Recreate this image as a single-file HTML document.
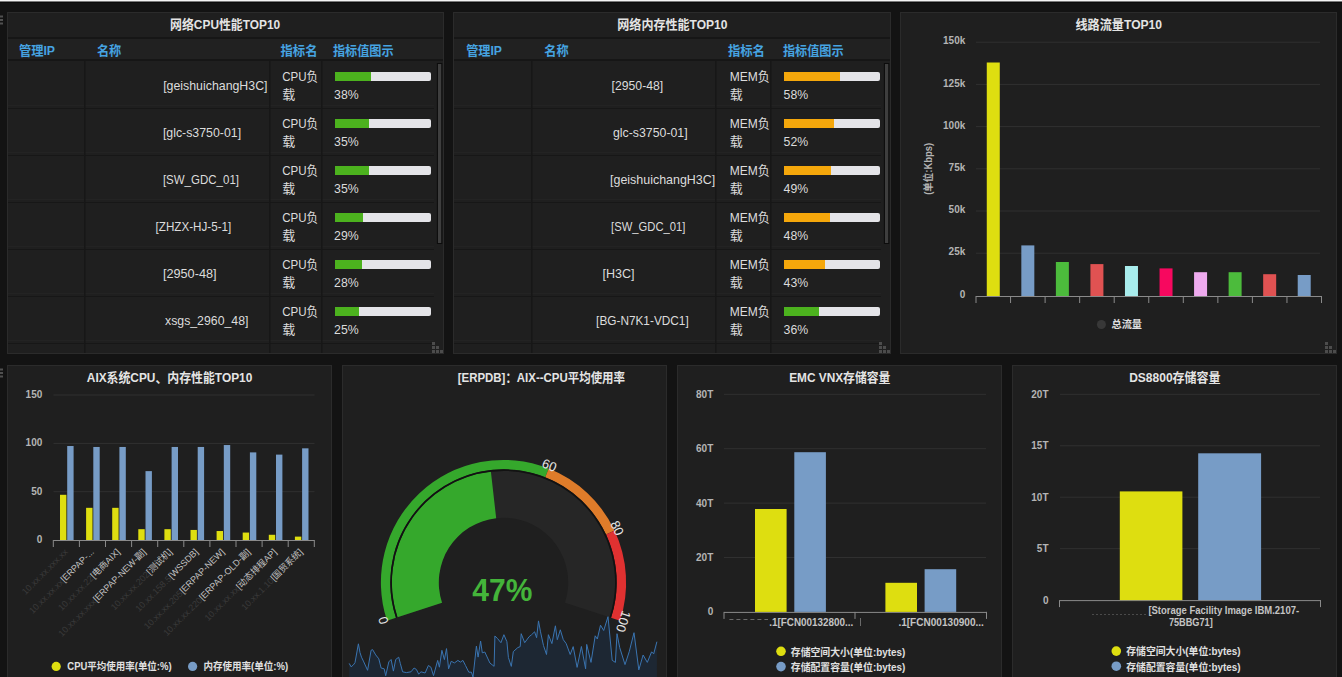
<!DOCTYPE html>
<html><head><meta charset="utf-8"><title>Dashboard</title>
<style>
html,body{margin:0;padding:0;background:#131313;width:1342px;height:677px;overflow:hidden}
svg{display:block;position:absolute;left:0;top:0}
text{font-family:"Liberation Sans","Noto Sans CJK SC",sans-serif}
</style></head><body>
<svg width="1342" height="677" viewBox="0 0 1342 677" shape-rendering="auto">
<rect x="0.00" y="0.00" width="1342.00" height="677.00" fill="#131313" />
<rect x="0.00" y="0.00" width="1342.00" height="1.00" fill="#f4f4f4" />
<rect x="0.00" y="1.00" width="1342.00" height="1.00" fill="#7a7a7a" />
<rect x="0.00" y="2.00" width="1342.00" height="1.00" fill="#0b0b0b" />
<rect x="0.00" y="15.50" width="3.00" height="2.00" fill="#505050" />
<rect x="0.00" y="19.00" width="3.00" height="2.00" fill="#505050" />
<rect x="0.00" y="22.50" width="3.00" height="2.00" fill="#505050" />
<rect x="0.00" y="368.50" width="3.00" height="2.00" fill="#505050" />
<rect x="0.00" y="372.00" width="3.00" height="2.00" fill="#505050" />
<rect x="0.00" y="375.50" width="3.00" height="2.00" fill="#505050" />
<rect x="7.00" y="12.00" width="437.00" height="342.00" fill="#2b2b2b" />
<rect x="8.00" y="13.00" width="435.00" height="340.00" fill="#1f1f1f" />
<text x="170.10" y="28.50" font-size="13" fill="#e4e4e4" font-weight="bold" text-anchor="start" textLength="110.1" lengthAdjust="spacingAndGlyphs" >网络CPU性能TOP10</text>
<rect x="8.00" y="37.00" width="435.00" height="2.00" fill="#161616" />
<rect x="8.00" y="39.00" width="435.00" height="20.00" fill="#212121" />
<rect x="8.00" y="59.00" width="435.00" height="2.00" fill="#161616" />
<text x="18.90" y="55.00" font-size="13" fill="#46a4e2" font-weight="bold" text-anchor="start" textLength="36.1" lengthAdjust="spacingAndGlyphs" >管理IP</text>
<text x="96.90" y="55.00" font-size="13" fill="#46a4e2" font-weight="bold" text-anchor="start" textLength="24.4" lengthAdjust="spacingAndGlyphs" >名称</text>
<text x="280.50" y="55.00" font-size="13" fill="#46a4e2" font-weight="bold" text-anchor="start" textLength="37.1" lengthAdjust="spacingAndGlyphs" >指标名</text>
<text x="332.90" y="55.00" font-size="13" fill="#46a4e2" font-weight="bold" text-anchor="start" textLength="60.8" lengthAdjust="spacingAndGlyphs" >指标值图示</text>
<rect x="8.00" y="108.00" width="426.00" height="1.00" fill="#171717" />
<rect x="8.00" y="105.00" width="426.00" height="1.00" fill="#232323" />
<rect x="8.00" y="155.00" width="426.00" height="1.00" fill="#171717" />
<rect x="8.00" y="152.00" width="426.00" height="1.00" fill="#232323" />
<rect x="8.00" y="202.00" width="426.00" height="1.00" fill="#171717" />
<rect x="8.00" y="199.00" width="426.00" height="1.00" fill="#232323" />
<rect x="8.00" y="249.00" width="426.00" height="1.00" fill="#171717" />
<rect x="8.00" y="246.00" width="426.00" height="1.00" fill="#232323" />
<rect x="8.00" y="296.00" width="426.00" height="1.00" fill="#171717" />
<rect x="8.00" y="293.00" width="426.00" height="1.00" fill="#232323" />
<rect x="8.00" y="343.00" width="426.00" height="1.00" fill="#171717" />
<rect x="8.00" y="340.00" width="426.00" height="1.00" fill="#232323" />
<rect x="84.00" y="61.00" width="1.50" height="292.00" fill="#171717" />
<rect x="269.00" y="61.00" width="1.50" height="292.00" fill="#171717" />
<rect x="321.00" y="61.00" width="1.50" height="292.00" fill="#171717" />
<text x="163.20" y="90.30" font-size="13" fill="#dcdcdc" text-anchor="start" textLength="104.3" lengthAdjust="spacingAndGlyphs" >[geishuichangH3C]</text>
<text x="282.20" y="80.80" font-size="13" fill="#dcdcdc" text-anchor="start" textLength="36.0" lengthAdjust="spacingAndGlyphs" >CPU负</text>
<text x="282.30" y="98.60" font-size="13" fill="#dcdcdc" text-anchor="start" >载</text>
<rect x="335.00" y="72.00" width="96.00" height="9.00" fill="#e4e4e8" rx="2"/>
<rect x="335.00" y="72.00" width="36.00" height="9.00" fill="#4cb21e" />
<text x="334.10" y="99.00" font-size="13" fill="#dcdcdc" text-anchor="start" textLength="24.6" lengthAdjust="spacingAndGlyphs" >38%</text>
<text x="162.90" y="137.30" font-size="13" fill="#dcdcdc" text-anchor="start" textLength="78.2" lengthAdjust="spacingAndGlyphs" >[glc-s3750-01]</text>
<text x="282.20" y="127.80" font-size="13" fill="#dcdcdc" text-anchor="start" textLength="36.0" lengthAdjust="spacingAndGlyphs" >CPU负</text>
<text x="282.30" y="145.60" font-size="13" fill="#dcdcdc" text-anchor="start" >载</text>
<rect x="335.00" y="119.00" width="96.00" height="9.00" fill="#e4e4e8" rx="2"/>
<rect x="335.00" y="119.00" width="34.00" height="9.00" fill="#4cb21e" />
<text x="334.10" y="146.00" font-size="13" fill="#dcdcdc" text-anchor="start" textLength="24.6" lengthAdjust="spacingAndGlyphs" >35%</text>
<text x="162.90" y="184.30" font-size="13" fill="#dcdcdc" text-anchor="start" textLength="76.1" lengthAdjust="spacingAndGlyphs" >[SW_GDC_01]</text>
<text x="282.20" y="174.80" font-size="13" fill="#dcdcdc" text-anchor="start" textLength="36.0" lengthAdjust="spacingAndGlyphs" >CPU负</text>
<text x="282.30" y="192.60" font-size="13" fill="#dcdcdc" text-anchor="start" >载</text>
<rect x="335.00" y="166.00" width="96.00" height="9.00" fill="#e4e4e8" rx="2"/>
<rect x="335.00" y="166.00" width="34.00" height="9.00" fill="#4cb21e" />
<text x="334.10" y="193.00" font-size="13" fill="#dcdcdc" text-anchor="start" textLength="24.6" lengthAdjust="spacingAndGlyphs" >35%</text>
<text x="155.60" y="231.30" font-size="13" fill="#dcdcdc" text-anchor="start" textLength="75.7" lengthAdjust="spacingAndGlyphs" >[ZHZX-HJ-5-1]</text>
<text x="282.20" y="221.80" font-size="13" fill="#dcdcdc" text-anchor="start" textLength="36.0" lengthAdjust="spacingAndGlyphs" >CPU负</text>
<text x="282.30" y="239.60" font-size="13" fill="#dcdcdc" text-anchor="start" >载</text>
<rect x="335.00" y="213.00" width="96.00" height="9.00" fill="#e4e4e8" rx="2"/>
<rect x="335.00" y="213.00" width="28.00" height="9.00" fill="#4cb21e" />
<text x="334.10" y="240.00" font-size="13" fill="#dcdcdc" text-anchor="start" textLength="24.6" lengthAdjust="spacingAndGlyphs" >29%</text>
<text x="162.90" y="278.30" font-size="13" fill="#dcdcdc" text-anchor="start" textLength="53.7" lengthAdjust="spacingAndGlyphs" >[2950-48]</text>
<text x="282.20" y="268.80" font-size="13" fill="#dcdcdc" text-anchor="start" textLength="36.0" lengthAdjust="spacingAndGlyphs" >CPU负</text>
<text x="282.30" y="286.60" font-size="13" fill="#dcdcdc" text-anchor="start" >载</text>
<rect x="335.00" y="260.00" width="96.00" height="9.00" fill="#e4e4e8" rx="2"/>
<rect x="335.00" y="260.00" width="27.00" height="9.00" fill="#4cb21e" />
<text x="334.10" y="287.00" font-size="13" fill="#dcdcdc" text-anchor="start" textLength="24.6" lengthAdjust="spacingAndGlyphs" >28%</text>
<text x="165.00" y="325.30" font-size="13" fill="#dcdcdc" text-anchor="start" textLength="83.4" lengthAdjust="spacingAndGlyphs" >xsgs_2960_48]</text>
<text x="282.20" y="315.80" font-size="13" fill="#dcdcdc" text-anchor="start" textLength="36.0" lengthAdjust="spacingAndGlyphs" >CPU负</text>
<text x="282.30" y="333.60" font-size="13" fill="#dcdcdc" text-anchor="start" >载</text>
<rect x="335.00" y="307.00" width="96.00" height="9.00" fill="#e4e4e8" rx="2"/>
<rect x="335.00" y="307.00" width="24.00" height="9.00" fill="#4cb21e" />
<text x="334.10" y="334.00" font-size="13" fill="#dcdcdc" text-anchor="start" textLength="24.6" lengthAdjust="spacingAndGlyphs" >25%</text>
<rect x="437.40" y="63.50" width="4.40" height="180.00" fill="#3e3e3e" stroke="#0c0c0c" stroke-width="1"/>
<rect x="440.00" y="350.00" width="3.00" height="3.00" fill="#4c4c4c" />
<rect x="436.00" y="350.00" width="3.00" height="3.00" fill="#4c4c4c" />
<rect x="432.00" y="350.00" width="3.00" height="3.00" fill="#4c4c4c" />
<rect x="436.00" y="346.00" width="3.00" height="3.00" fill="#4c4c4c" />
<rect x="432.00" y="346.00" width="3.00" height="3.00" fill="#4c4c4c" />
<rect x="432.00" y="342.00" width="3.00" height="3.00" fill="#4c4c4c" />
<rect x="453.00" y="12.00" width="438.00" height="342.00" fill="#2b2b2b" />
<rect x="454.00" y="13.00" width="436.00" height="340.00" fill="#1f1f1f" />
<text x="617.30" y="28.50" font-size="13" fill="#e4e4e4" font-weight="bold" text-anchor="start" textLength="110.2" lengthAdjust="spacingAndGlyphs" >网络内存性能TOP10</text>
<rect x="454.00" y="37.00" width="436.00" height="2.00" fill="#161616" />
<rect x="454.00" y="39.00" width="436.00" height="20.00" fill="#212121" />
<rect x="454.00" y="59.00" width="436.00" height="2.00" fill="#161616" />
<text x="466.20" y="55.00" font-size="13" fill="#46a4e2" font-weight="bold" text-anchor="start" textLength="35.8" lengthAdjust="spacingAndGlyphs" >管理IP</text>
<text x="544.20" y="55.00" font-size="13" fill="#46a4e2" font-weight="bold" text-anchor="start" textLength="24.4" lengthAdjust="spacingAndGlyphs" >名称</text>
<text x="727.90" y="55.00" font-size="13" fill="#46a4e2" font-weight="bold" text-anchor="start" textLength="37.1" lengthAdjust="spacingAndGlyphs" >指标名</text>
<text x="782.90" y="55.00" font-size="13" fill="#46a4e2" font-weight="bold" text-anchor="start" textLength="60.8" lengthAdjust="spacingAndGlyphs" >指标值图示</text>
<rect x="454.00" y="108.00" width="427.00" height="1.00" fill="#171717" />
<rect x="454.00" y="105.00" width="427.00" height="1.00" fill="#232323" />
<rect x="454.00" y="155.00" width="427.00" height="1.00" fill="#171717" />
<rect x="454.00" y="152.00" width="427.00" height="1.00" fill="#232323" />
<rect x="454.00" y="202.00" width="427.00" height="1.00" fill="#171717" />
<rect x="454.00" y="199.00" width="427.00" height="1.00" fill="#232323" />
<rect x="454.00" y="249.00" width="427.00" height="1.00" fill="#171717" />
<rect x="454.00" y="246.00" width="427.00" height="1.00" fill="#232323" />
<rect x="454.00" y="296.00" width="427.00" height="1.00" fill="#171717" />
<rect x="454.00" y="293.00" width="427.00" height="1.00" fill="#232323" />
<rect x="454.00" y="343.00" width="427.00" height="1.00" fill="#171717" />
<rect x="454.00" y="340.00" width="427.00" height="1.00" fill="#232323" />
<rect x="531.00" y="61.00" width="1.50" height="292.00" fill="#171717" />
<rect x="715.00" y="61.00" width="1.50" height="292.00" fill="#171717" />
<rect x="770.00" y="61.00" width="1.50" height="292.00" fill="#171717" />
<text x="611.60" y="90.30" font-size="13" fill="#dcdcdc" text-anchor="start" textLength="51.6" lengthAdjust="spacingAndGlyphs" >[2950-48]</text>
<text x="729.70" y="80.80" font-size="13" fill="#dcdcdc" text-anchor="start" textLength="40.1" lengthAdjust="spacingAndGlyphs" >MEM负</text>
<text x="729.80" y="98.60" font-size="13" fill="#dcdcdc" text-anchor="start" >载</text>
<rect x="784.00" y="72.00" width="96.00" height="9.00" fill="#e4e4e8" rx="2"/>
<rect x="784.00" y="72.00" width="56.00" height="9.00" fill="#f5a70b" />
<text x="783.60" y="99.00" font-size="13" fill="#dcdcdc" text-anchor="start" textLength="24.6" lengthAdjust="spacingAndGlyphs" >58%</text>
<text x="613.00" y="137.30" font-size="13" fill="#dcdcdc" text-anchor="start" textLength="74.6" lengthAdjust="spacingAndGlyphs" >glc-s3750-01]</text>
<text x="729.70" y="127.80" font-size="13" fill="#dcdcdc" text-anchor="start" textLength="40.1" lengthAdjust="spacingAndGlyphs" >MEM负</text>
<text x="729.80" y="145.60" font-size="13" fill="#dcdcdc" text-anchor="start" >载</text>
<rect x="784.00" y="119.00" width="96.00" height="9.00" fill="#e4e4e8" rx="2"/>
<rect x="784.00" y="119.00" width="50.00" height="9.00" fill="#f5a70b" />
<text x="783.60" y="146.00" font-size="13" fill="#dcdcdc" text-anchor="start" textLength="24.6" lengthAdjust="spacingAndGlyphs" >52%</text>
<text x="610.00" y="184.30" font-size="13" fill="#dcdcdc" text-anchor="start" textLength="105.2" lengthAdjust="spacingAndGlyphs" >[geishuichangH3C]</text>
<text x="729.70" y="174.80" font-size="13" fill="#dcdcdc" text-anchor="start" textLength="40.1" lengthAdjust="spacingAndGlyphs" >MEM负</text>
<text x="729.80" y="192.60" font-size="13" fill="#dcdcdc" text-anchor="start" >载</text>
<rect x="784.00" y="166.00" width="96.00" height="9.00" fill="#e4e4e8" rx="2"/>
<rect x="784.00" y="166.00" width="47.00" height="9.00" fill="#f5a70b" />
<text x="783.60" y="193.00" font-size="13" fill="#dcdcdc" text-anchor="start" textLength="24.6" lengthAdjust="spacingAndGlyphs" >49%</text>
<text x="611.10" y="231.30" font-size="13" fill="#dcdcdc" text-anchor="start" textLength="74.4" lengthAdjust="spacingAndGlyphs" >[SW_GDC_01]</text>
<text x="729.70" y="221.80" font-size="13" fill="#dcdcdc" text-anchor="start" textLength="40.1" lengthAdjust="spacingAndGlyphs" >MEM负</text>
<text x="729.80" y="239.60" font-size="13" fill="#dcdcdc" text-anchor="start" >载</text>
<rect x="784.00" y="213.00" width="96.00" height="9.00" fill="#e4e4e8" rx="2"/>
<rect x="784.00" y="213.00" width="46.00" height="9.00" fill="#f5a70b" />
<text x="783.60" y="240.00" font-size="13" fill="#dcdcdc" text-anchor="start" textLength="24.6" lengthAdjust="spacingAndGlyphs" >48%</text>
<text x="602.50" y="278.30" font-size="13" fill="#dcdcdc" text-anchor="start" textLength="32.1" lengthAdjust="spacingAndGlyphs" >[H3C]</text>
<text x="729.70" y="268.80" font-size="13" fill="#dcdcdc" text-anchor="start" textLength="40.1" lengthAdjust="spacingAndGlyphs" >MEM负</text>
<text x="729.80" y="286.60" font-size="13" fill="#dcdcdc" text-anchor="start" >载</text>
<rect x="784.00" y="260.00" width="96.00" height="9.00" fill="#e4e4e8" rx="2"/>
<rect x="784.00" y="260.00" width="41.00" height="9.00" fill="#f5a70b" />
<text x="783.60" y="287.00" font-size="13" fill="#dcdcdc" text-anchor="start" textLength="24.6" lengthAdjust="spacingAndGlyphs" >43%</text>
<text x="596.10" y="325.30" font-size="13" fill="#dcdcdc" text-anchor="start" textLength="92.6" lengthAdjust="spacingAndGlyphs" >[BG-N7K1-VDC1]</text>
<text x="729.70" y="315.80" font-size="13" fill="#dcdcdc" text-anchor="start" textLength="40.1" lengthAdjust="spacingAndGlyphs" >MEM负</text>
<text x="729.80" y="333.60" font-size="13" fill="#dcdcdc" text-anchor="start" >载</text>
<rect x="784.00" y="307.00" width="96.00" height="9.00" fill="#e4e4e8" rx="2"/>
<rect x="784.00" y="307.00" width="35.00" height="9.00" fill="#4cb21e" />
<text x="783.60" y="334.00" font-size="13" fill="#dcdcdc" text-anchor="start" textLength="24.6" lengthAdjust="spacingAndGlyphs" >36%</text>
<rect x="884.40" y="63.50" width="4.40" height="180.00" fill="#3e3e3e" stroke="#0c0c0c" stroke-width="1"/>
<rect x="887.00" y="350.00" width="3.00" height="3.00" fill="#4c4c4c" />
<rect x="883.00" y="350.00" width="3.00" height="3.00" fill="#4c4c4c" />
<rect x="879.00" y="350.00" width="3.00" height="3.00" fill="#4c4c4c" />
<rect x="883.00" y="346.00" width="3.00" height="3.00" fill="#4c4c4c" />
<rect x="879.00" y="346.00" width="3.00" height="3.00" fill="#4c4c4c" />
<rect x="879.00" y="342.00" width="3.00" height="3.00" fill="#4c4c4c" />
<rect x="900.00" y="12.00" width="437.00" height="342.00" fill="#2b2b2b" />
<rect x="901.00" y="13.00" width="435.00" height="340.00" fill="#1f1f1f" />
<text x="1075.50" y="29.00" font-size="13" fill="#e4e4e4" font-weight="bold" text-anchor="start" textLength="86.6" lengthAdjust="spacingAndGlyphs" >线路流量TOP10</text>
<rect x="976.00" y="41.70" width="344.00" height="1.00" fill="#303030" />
<text x="965.30" y="44.40" font-size="10" fill="#b4b4b4" font-weight="bold" text-anchor="end" >150k</text>
<rect x="976.00" y="83.90" width="344.00" height="1.00" fill="#303030" />
<text x="965.30" y="86.60" font-size="10" fill="#b4b4b4" font-weight="bold" text-anchor="end" >125k</text>
<rect x="976.00" y="126.10" width="344.00" height="1.00" fill="#303030" />
<text x="965.30" y="128.80" font-size="10" fill="#b4b4b4" font-weight="bold" text-anchor="end" >100k</text>
<rect x="976.00" y="168.30" width="344.00" height="1.00" fill="#303030" />
<text x="965.30" y="171.00" font-size="10" fill="#b4b4b4" font-weight="bold" text-anchor="end" >75k</text>
<rect x="976.00" y="210.50" width="344.00" height="1.00" fill="#303030" />
<text x="965.30" y="213.20" font-size="10" fill="#b4b4b4" font-weight="bold" text-anchor="end" >50k</text>
<rect x="976.00" y="252.70" width="344.00" height="1.00" fill="#303030" />
<text x="965.30" y="255.40" font-size="10" fill="#b4b4b4" font-weight="bold" text-anchor="end" >25k</text>
<text x="965.30" y="297.60" font-size="10" fill="#b4b4b4" font-weight="bold" text-anchor="end" >0</text>
<rect x="976.00" y="296.00" width="345.50" height="1.00" fill="#8a8a8a" />
<rect x="975.50" y="296.00" width="1.00" height="7.00" fill="#8a8a8a" />
<rect x="1010.05" y="296.00" width="1.00" height="7.00" fill="#8a8a8a" />
<rect x="1044.60" y="296.00" width="1.00" height="7.00" fill="#8a8a8a" />
<rect x="1079.15" y="296.00" width="1.00" height="7.00" fill="#8a8a8a" />
<rect x="1113.70" y="296.00" width="1.00" height="7.00" fill="#8a8a8a" />
<rect x="1148.25" y="296.00" width="1.00" height="7.00" fill="#8a8a8a" />
<rect x="1182.80" y="296.00" width="1.00" height="7.00" fill="#8a8a8a" />
<rect x="1217.35" y="296.00" width="1.00" height="7.00" fill="#8a8a8a" />
<rect x="1251.90" y="296.00" width="1.00" height="7.00" fill="#8a8a8a" />
<rect x="1286.45" y="296.00" width="1.00" height="7.00" fill="#8a8a8a" />
<rect x="1321.00" y="296.00" width="1.00" height="7.00" fill="#8a8a8a" />
<rect x="986.77" y="62.50" width="13.00" height="233.50" fill="#dede10" />
<rect x="1021.33" y="245.40" width="13.00" height="50.60" fill="#779cc6" />
<rect x="1055.88" y="262.00" width="13.00" height="34.00" fill="#4cbb3c" />
<rect x="1090.42" y="264.10" width="13.00" height="31.90" fill="#e05252" />
<rect x="1124.97" y="266.00" width="13.00" height="30.00" fill="#a8ecec" />
<rect x="1159.53" y="268.40" width="13.00" height="27.60" fill="#f7085f" />
<rect x="1194.08" y="272.20" width="13.00" height="23.80" fill="#eeaaee" />
<rect x="1228.62" y="272.20" width="13.00" height="23.80" fill="#4cbb3c" />
<rect x="1263.17" y="274.20" width="13.00" height="21.80" fill="#e05252" />
<rect x="1297.72" y="275.00" width="13.00" height="21.00" fill="#779cc6" />
<text x="0.00" y="0.00" font-size="10" fill="#b4b4b4" font-weight="bold" text-anchor="middle" textLength="52.0" lengthAdjust="spacingAndGlyphs" transform="translate(932,168.8) rotate(-90)">(单位:Kbps)</text>
<circle cx="1101.4" cy="324.5" r="4.5" fill="#383838"/>
<text x="1111.50" y="328.40" font-size="10" fill="#e0e0e0" font-weight="bold" text-anchor="start" textLength="30.5" lengthAdjust="spacingAndGlyphs" >总流量</text>
<rect x="1333.00" y="350.00" width="3.00" height="3.00" fill="#4c4c4c" />
<rect x="1329.00" y="350.00" width="3.00" height="3.00" fill="#4c4c4c" />
<rect x="1325.00" y="350.00" width="3.00" height="3.00" fill="#4c4c4c" />
<rect x="1329.00" y="346.00" width="3.00" height="3.00" fill="#4c4c4c" />
<rect x="1325.00" y="346.00" width="3.00" height="3.00" fill="#4c4c4c" />
<rect x="1325.00" y="342.00" width="3.00" height="3.00" fill="#4c4c4c" />
<rect x="7.00" y="365.00" width="325.00" height="336.00" fill="#2b2b2b" />
<rect x="8.00" y="366.00" width="323.00" height="334.00" fill="#1f1f1f" />
<text x="86.80" y="382.30" font-size="13" fill="#e4e4e4" font-weight="bold" text-anchor="start" textLength="165.5" lengthAdjust="spacingAndGlyphs" >AIX系统CPU、内存性能TOP10</text>
<rect x="53.50" y="394.50" width="261.00" height="1.00" fill="#303030" />
<text x="42.30" y="398.00" font-size="10" fill="#b4b4b4" font-weight="bold" text-anchor="end" >150</text>
<rect x="53.50" y="442.90" width="261.00" height="1.00" fill="#303030" />
<text x="42.30" y="446.40" font-size="10" fill="#b4b4b4" font-weight="bold" text-anchor="end" >100</text>
<rect x="53.50" y="491.20" width="261.00" height="1.00" fill="#303030" />
<text x="42.30" y="494.70" font-size="10" fill="#b4b4b4" font-weight="bold" text-anchor="end" >50</text>
<text x="42.30" y="543.00" font-size="10" fill="#b4b4b4" font-weight="bold" text-anchor="end" >0</text>
<rect x="53.30" y="540.00" width="261.00" height="1.00" fill="#8a8a8a" />
<rect x="52.80" y="540.00" width="1.00" height="7.00" fill="#8a8a8a" />
<rect x="78.90" y="540.00" width="1.00" height="7.00" fill="#8a8a8a" />
<rect x="105.00" y="540.00" width="1.00" height="7.00" fill="#8a8a8a" />
<rect x="131.10" y="540.00" width="1.00" height="7.00" fill="#8a8a8a" />
<rect x="157.20" y="540.00" width="1.00" height="7.00" fill="#8a8a8a" />
<rect x="183.30" y="540.00" width="1.00" height="7.00" fill="#8a8a8a" />
<rect x="209.40" y="540.00" width="1.00" height="7.00" fill="#8a8a8a" />
<rect x="235.50" y="540.00" width="1.00" height="7.00" fill="#8a8a8a" />
<rect x="261.60" y="540.00" width="1.00" height="7.00" fill="#8a8a8a" />
<rect x="287.70" y="540.00" width="1.00" height="7.00" fill="#8a8a8a" />
<rect x="313.80" y="540.00" width="1.00" height="7.00" fill="#8a8a8a" />
<rect x="60.00" y="494.79" width="6.40" height="45.21" fill="#dede10" />
<rect x="67.20" y="446.01" width="6.40" height="93.99" fill="#779cc6" />
<rect x="86.10" y="507.83" width="6.40" height="32.17" fill="#dede10" />
<rect x="93.30" y="446.97" width="6.40" height="93.03" fill="#779cc6" />
<rect x="112.20" y="507.83" width="6.40" height="32.17" fill="#dede10" />
<rect x="119.40" y="446.97" width="6.40" height="93.03" fill="#779cc6" />
<rect x="138.30" y="529.18" width="6.40" height="10.82" fill="#dede10" />
<rect x="145.50" y="471.12" width="6.40" height="68.88" fill="#779cc6" />
<rect x="164.40" y="529.18" width="6.40" height="10.82" fill="#dede10" />
<rect x="171.60" y="446.97" width="6.40" height="93.03" fill="#779cc6" />
<rect x="190.50" y="529.95" width="6.40" height="10.05" fill="#dede10" />
<rect x="197.70" y="446.97" width="6.40" height="93.03" fill="#779cc6" />
<rect x="216.60" y="531.02" width="6.40" height="8.98" fill="#dede10" />
<rect x="223.80" y="445.04" width="6.40" height="94.96" fill="#779cc6" />
<rect x="242.70" y="532.56" width="6.40" height="7.44" fill="#dede10" />
<rect x="249.90" y="452.38" width="6.40" height="87.62" fill="#779cc6" />
<rect x="268.80" y="534.78" width="6.40" height="5.22" fill="#dede10" />
<rect x="276.00" y="454.61" width="6.40" height="85.39" fill="#779cc6" />
<rect x="294.90" y="536.62" width="6.40" height="3.38" fill="#dede10" />
<rect x="302.10" y="448.33" width="6.40" height="91.67" fill="#779cc6" />
<text transform="translate(68.35,552.5) rotate(-45)" font-size="9" text-anchor="end"><tspan fill="#3a3a3a">10.xx.xx.xxx.xx</tspan><tspan fill="#c4c4c4"></tspan></text>
<text transform="translate(94.45,552.5) rotate(-45)" font-size="9" text-anchor="end"><tspan fill="#3a3a3a">10.xx.xx.xx</tspan><tspan fill="#c4c4c4">[ERPAP-...</tspan></text>
<text transform="translate(120.55,552.5) rotate(-45)" font-size="9" text-anchor="end"><tspan fill="#3a3a3a">10.xx.xx.22</tspan><tspan fill="#c4c4c4">[电商AIX]</tspan></text>
<text transform="translate(146.65,552.5) rotate(-45)" font-size="9" text-anchor="end"><tspan fill="#3a3a3a">10.xx.xx.xxx</tspan><tspan fill="#c4c4c4">[ERPAP-NEW-副]</tspan></text>
<text transform="translate(172.75,552.5) rotate(-45)" font-size="9" text-anchor="end"><tspan fill="#3a3a3a">10.xx.xx.202</tspan><tspan fill="#c4c4c4">[测试机]</tspan></text>
<text transform="translate(198.85,552.5) rotate(-45)" font-size="9" text-anchor="end"><tspan fill="#3a3a3a">10.xx.158.5</tspan><tspan fill="#c4c4c4">[WSSDB]</tspan></text>
<text transform="translate(224.95,552.5) rotate(-45)" font-size="9" text-anchor="end"><tspan fill="#3a3a3a">10.xx.xx.205</tspan><tspan fill="#c4c4c4">[ERPAP-NEW]</tspan></text>
<text transform="translate(251.05,552.5) rotate(-45)" font-size="9" text-anchor="end"><tspan fill="#3a3a3a">10.xx.xx.220</tspan><tspan fill="#c4c4c4">[ERPAP-OLD-副]</tspan></text>
<text transform="translate(277.15,552.5) rotate(-45)" font-size="9" text-anchor="end"><tspan fill="#3a3a3a">10.xx.xx.xx</tspan><tspan fill="#c4c4c4">[动态排程AP]</tspan></text>
<text transform="translate(303.25,552.5) rotate(-45)" font-size="9" text-anchor="end"><tspan fill="#3a3a3a">10.xx.1.10</tspan><tspan fill="#c4c4c4">[国贸系统]</tspan></text>
<circle cx="56.2" cy="666.4" r="4.6" fill="#dede10"/>
<text x="67.30" y="670.20" font-size="10" fill="#e0e0e0" font-weight="bold" text-anchor="start" textLength="104.3" lengthAdjust="spacingAndGlyphs" >CPU平均使用率(单位:%)</text>
<circle cx="192.6" cy="666.4" r="4.6" fill="#779cc6"/>
<text x="203.40" y="670.20" font-size="10" fill="#e0e0e0" font-weight="bold" text-anchor="start" textLength="84.8" lengthAdjust="spacingAndGlyphs" >内存使用率(单位:%)</text>
<rect x="342.00" y="365.00" width="325.00" height="336.00" fill="#2b2b2b" />
<rect x="343.00" y="366.00" width="323.00" height="334.00" fill="#1f1f1f" />
<text x="457.70" y="382.30" font-size="13" fill="#e4e4e4" font-weight="bold" text-anchor="start" textLength="167.3" lengthAdjust="spacingAndGlyphs" >[ERPDB]：AIX--CPU平均使用率</text>
<path d="M397.48,617.36 A111.6,111.6 0 1 1 609.52,617.36 L564.96,602.71 A64.7,64.7 0 1 0 442.04,602.71 Z" fill="#262626" />
<path d="M397.48,617.36 A111.6,111.6 0 0 1 490.88,471.62 L496.18,518.21 A64.7,64.7 0 0 0 442.04,602.71 Z" fill="#35a82c" />
<path d="M387.03,620.79 A122.6,122.6 0 0 1 548.71,468.54 L545.25,477.28 A113.2,113.2 0 0 0 395.96,617.86 Z" fill="#35a82c" />
<path d="M548.71,468.54 A122.6,122.6 0 0 1 614.54,530.53 L606.03,534.52 A113.2,113.2 0 0 0 545.25,477.28 Z" fill="#df7c2a" />
<path d="M614.54,530.53 A122.6,122.6 0 0 1 619.97,620.79 L611.04,617.86 A113.2,113.2 0 0 0 606.03,534.52 Z" fill="#e03131" />
<path d="M396.72,617.61 A112.4,112.4 0 1 1 610.28,617.61" fill="none" stroke="#121212" stroke-width="1.6"/>
<text transform="translate(383.33,620.39) rotate(-107.5)" font-size="13" fill="#e6e6e6" text-anchor="middle" dominant-baseline="central">0</text>
<text transform="translate(549.47,465.19) rotate(21.4)" font-size="13" fill="#e6e6e6" text-anchor="middle" dominant-baseline="central">60</text>
<text transform="translate(617.13,528.06) rotate(64.4)" font-size="13" fill="#e6e6e6" text-anchor="middle" dominant-baseline="central">80</text>
<text transform="translate(623.33,621.44) rotate(108.0)" font-size="13" fill="#e6e6e6" text-anchor="middle" dominant-baseline="central">100</text>
<text x="502.30" y="601.30" font-size="32" fill="#44b43a" font-weight="bold" text-anchor="middle" textLength="60.0" lengthAdjust="spacingAndGlyphs" >47%</text>
<path d="M349.2,663.4 L351.1,666.8 L353.4,664.9 L355.0,662.6 L358.4,643.8 L360.0,652.6 L361.5,657.2 L363.4,661.1 L367.6,670.3 L371.1,650.3 L372.6,649.6 L375.7,654.9 L378.8,658.8 L381.1,668.0 L384.2,668.8 L385.7,675.7 L388.8,661.9 L391.1,659.5 L393.4,671.1 L395.7,659.5 L398.7,657.2 L400.3,663.4 L402.6,671.8 L406.4,672.6 L411.0,671.8 L414.1,668.0 L416.4,669.5 L418.7,674.1 L421.0,671.8 L425.1,673.0 L428.4,665.5 L430.9,667.2 L433.5,675.6 L437.7,660.4 L439.4,667.2 L441.9,650.3 L444.4,659.6 L446.5,648.6 L448.6,668.8 L451.2,661.3 L454.5,662.9 L457.9,660.4 L460.4,662.1 L462.9,660.4 L465.5,665.5 L468.8,672.2 L471.4,672.2 L473.0,677.0 L476.4,646.1 L478.1,657.1 L480.6,641.1 L482.3,652.8 L484.8,652.0 L489.9,663.0 L494.1,666.3 L494.9,636.0 L497.5,638.5 L500.9,642.7 L503.9,634.7 L506.9,641.7 L508.4,657.5 L511.3,666.4 L513.3,651.6 L517.8,647.6 L520.2,646.6 L521.2,633.7 L524.7,642.7 L529.1,636.7 L531.6,634.7 L534.6,631.8 L536.6,637.7 L538.5,620.9 L540.5,631.8 L543.5,645.6 L546.5,654.5 L548.4,634.7 L551.9,643.6 L555.4,625.8 L557.3,639.7 L560.3,629.8 L563.3,639.7 L566.2,643.6 L570.2,654.5 L573.2,646.6 L577.1,667.4 L581.4,646.5 L585.6,668.8 L586.7,644.4 L591.0,662.4 L595.2,635.8 L597.3,639.0 L600.5,625.2 L603.7,630.5 L608.0,616.7 L612.2,660.3 L615.4,662.4 L617.0,633.7 L619.7,647.5 L625.0,664.6 L629.2,651.8 L634.0,632.7 L638.8,669.9 L643.1,655.0 L647.3,662.4 L651.6,651.8 L653.7,653.9 L656.9,641.7 L656.9,678 L349.2,678 Z" fill="#1d2733"/>
<path d="M349.2,663.4 L351.1,666.8 L353.4,664.9 L355.0,662.6 L358.4,643.8 L360.0,652.6 L361.5,657.2 L363.4,661.1 L367.6,670.3 L371.1,650.3 L372.6,649.6 L375.7,654.9 L378.8,658.8 L381.1,668.0 L384.2,668.8 L385.7,675.7 L388.8,661.9 L391.1,659.5 L393.4,671.1 L395.7,659.5 L398.7,657.2 L400.3,663.4 L402.6,671.8 L406.4,672.6 L411.0,671.8 L414.1,668.0 L416.4,669.5 L418.7,674.1 L421.0,671.8 L425.1,673.0 L428.4,665.5 L430.9,667.2 L433.5,675.6 L437.7,660.4 L439.4,667.2 L441.9,650.3 L444.4,659.6 L446.5,648.6 L448.6,668.8 L451.2,661.3 L454.5,662.9 L457.9,660.4 L460.4,662.1 L462.9,660.4 L465.5,665.5 L468.8,672.2 L471.4,672.2 L473.0,677.0 L476.4,646.1 L478.1,657.1 L480.6,641.1 L482.3,652.8 L484.8,652.0 L489.9,663.0 L494.1,666.3 L494.9,636.0 L497.5,638.5 L500.9,642.7 L503.9,634.7 L506.9,641.7 L508.4,657.5 L511.3,666.4 L513.3,651.6 L517.8,647.6 L520.2,646.6 L521.2,633.7 L524.7,642.7 L529.1,636.7 L531.6,634.7 L534.6,631.8 L536.6,637.7 L538.5,620.9 L540.5,631.8 L543.5,645.6 L546.5,654.5 L548.4,634.7 L551.9,643.6 L555.4,625.8 L557.3,639.7 L560.3,629.8 L563.3,639.7 L566.2,643.6 L570.2,654.5 L573.2,646.6 L577.1,667.4 L581.4,646.5 L585.6,668.8 L586.7,644.4 L591.0,662.4 L595.2,635.8 L597.3,639.0 L600.5,625.2 L603.7,630.5 L608.0,616.7 L612.2,660.3 L615.4,662.4 L617.0,633.7 L619.7,647.5 L625.0,664.6 L629.2,651.8 L634.0,632.7 L638.8,669.9 L643.1,655.0 L647.3,662.4 L651.6,651.8 L653.7,653.9 L656.9,641.7" fill="none" stroke="#3a74b0" stroke-width="1"/>
<rect x="677.00" y="365.00" width="325.00" height="336.00" fill="#2b2b2b" />
<rect x="678.00" y="366.00" width="323.00" height="334.00" fill="#1f1f1f" />
<text x="789.20" y="382.30" font-size="13" fill="#e4e4e4" font-weight="bold" text-anchor="start" textLength="101.2" lengthAdjust="spacingAndGlyphs" >EMC VNX存储容量</text>
<rect x="724.00" y="393.80" width="262.00" height="1.00" fill="#303030" />
<text x="713.30" y="397.80" font-size="10" fill="#b4b4b4" font-weight="bold" text-anchor="end" >80T</text>
<rect x="724.00" y="448.20" width="262.00" height="1.00" fill="#303030" />
<text x="713.30" y="452.20" font-size="10" fill="#b4b4b4" font-weight="bold" text-anchor="end" >60T</text>
<rect x="724.00" y="502.60" width="262.00" height="1.00" fill="#303030" />
<text x="713.30" y="506.60" font-size="10" fill="#b4b4b4" font-weight="bold" text-anchor="end" >40T</text>
<rect x="724.00" y="557.00" width="262.00" height="1.00" fill="#303030" />
<text x="713.30" y="561.00" font-size="10" fill="#b4b4b4" font-weight="bold" text-anchor="end" >20T</text>
<text x="713.30" y="615.40" font-size="10" fill="#b4b4b4" font-weight="bold" text-anchor="end" >0</text>
<rect x="724.00" y="611.90" width="263.00" height="1.00" fill="#8a8a8a" />
<rect x="723.50" y="611.90" width="1.00" height="7.00" fill="#8a8a8a" />
<rect x="854.50" y="611.90" width="1.00" height="7.00" fill="#8a8a8a" />
<rect x="986.00" y="611.90" width="1.00" height="7.00" fill="#8a8a8a" />
<rect x="755.00" y="509.00" width="31.60" height="102.90" fill="#dede10" />
<rect x="794.30" y="452.20" width="31.60" height="159.70" fill="#779cc6" />
<rect x="885.40" y="582.80" width="31.60" height="29.10" fill="#dede10" />
<rect x="924.60" y="569.20" width="31.60" height="42.70" fill="#779cc6" />
<text x="769.30" y="626.00" font-size="10" fill="#c4c4c4" font-weight="bold" text-anchor="start" textLength="84.0" lengthAdjust="spacingAndGlyphs" >.1[FCN00132800...</text>
<text x="898.40" y="626.00" font-size="10" fill="#c4c4c4" font-weight="bold" text-anchor="start" textLength="85.5" lengthAdjust="spacingAndGlyphs" >.1[FCN00130900...</text>
<line x1="729.40" y1="619.50" x2="768.00" y2="619.50" stroke="#6a6a6a" stroke-width="1" stroke-dasharray="4,3"/>
<rect x="860.00" y="618.00" width="1.00" height="8.00" fill="#6a6a6a" />
<circle cx="781" cy="651.3" r="4.8" fill="#dede10"/>
<text x="790.80" y="655.60" font-size="10" fill="#e0e0e0" font-weight="bold" text-anchor="start" textLength="114.4" lengthAdjust="spacingAndGlyphs" >存储空间大小(单位:bytes)</text>
<circle cx="781" cy="666.6" r="4.8" fill="#779cc6"/>
<text x="790.80" y="670.90" font-size="10" fill="#e0e0e0" font-weight="bold" text-anchor="start" textLength="114.4" lengthAdjust="spacingAndGlyphs" >存储配置容量(单位:bytes)</text>
<rect x="1012.00" y="365.00" width="325.00" height="336.00" fill="#2b2b2b" />
<rect x="1013.00" y="366.00" width="323.00" height="334.00" fill="#1f1f1f" />
<text x="1129.20" y="382.30" font-size="13" fill="#e4e4e4" font-weight="bold" text-anchor="start" textLength="91.4" lengthAdjust="spacingAndGlyphs" >DS8800存储容量</text>
<rect x="1060.00" y="393.80" width="260.00" height="1.00" fill="#303030" />
<text x="1048.50" y="397.80" font-size="10" fill="#b4b4b4" font-weight="bold" text-anchor="end" >20T</text>
<rect x="1060.00" y="445.25" width="260.00" height="1.00" fill="#303030" />
<text x="1048.50" y="449.25" font-size="10" fill="#b4b4b4" font-weight="bold" text-anchor="end" >15T</text>
<rect x="1060.00" y="496.70" width="260.00" height="1.00" fill="#303030" />
<text x="1048.50" y="500.70" font-size="10" fill="#b4b4b4" font-weight="bold" text-anchor="end" >10T</text>
<rect x="1060.00" y="548.15" width="260.00" height="1.00" fill="#303030" />
<text x="1048.50" y="552.15" font-size="10" fill="#b4b4b4" font-weight="bold" text-anchor="end" >5T</text>
<text x="1048.50" y="603.60" font-size="10" fill="#b4b4b4" font-weight="bold" text-anchor="end" >0</text>
<rect x="1060.00" y="600.10" width="261.00" height="1.00" fill="#8a8a8a" />
<rect x="1059.00" y="600.10" width="1.00" height="7.00" fill="#8a8a8a" />
<rect x="1320.00" y="600.10" width="1.00" height="7.00" fill="#8a8a8a" />
<rect x="1119.80" y="491.40" width="62.60" height="108.70" fill="#dede10" />
<rect x="1198.20" y="453.30" width="62.90" height="146.80" fill="#779cc6" />
<text x="1148.40" y="614.20" font-size="10" fill="#c4c4c4" font-weight="bold" text-anchor="start" textLength="150.7" lengthAdjust="spacingAndGlyphs" >[Storage Facility Image IBM.2107-</text>
<text x="1168.90" y="625.60" font-size="10" fill="#c4c4c4" font-weight="bold" text-anchor="start" textLength="43.8" lengthAdjust="spacingAndGlyphs" >75BBG71]</text>
<line x1="1092.00" y1="614.50" x2="1147.00" y2="614.50" stroke="#4a4a4a" stroke-width="1" stroke-dasharray="2,2"/>
<circle cx="1116.3" cy="651.1" r="4.8" fill="#dede10"/>
<text x="1126.20" y="655.40" font-size="10" fill="#e0e0e0" font-weight="bold" text-anchor="start" textLength="114.4" lengthAdjust="spacingAndGlyphs" >存储空间大小(单位:bytes)</text>
<circle cx="1116.3" cy="666.2" r="4.8" fill="#779cc6"/>
<text x="1126.20" y="670.50" font-size="10" fill="#e0e0e0" font-weight="bold" text-anchor="start" textLength="114.4" lengthAdjust="spacingAndGlyphs" >存储配置容量(单位:bytes)</text>
</svg>
</body></html>
